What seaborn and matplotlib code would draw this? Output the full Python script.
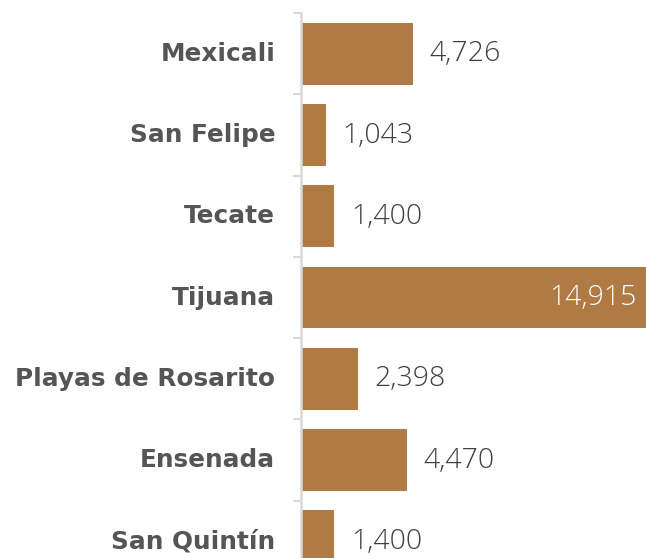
import matplotlib
matplotlib.use("Agg")
import matplotlib.pyplot as plt
import matplotlib.transforms as mtransforms
import seaborn as sns
import pandas as pd
import numpy as np

categories = ["Mexicali", "San Felipe", "Tecate", "Tijuana", "Playas de Rosarito", "Ensenada", "San Quintín"]
values = [4726, 1043, 1400, 14915, 2398, 4470, 1400]
value_labels = ["4,726", "1,043", "1,400", "14,915", "2,398", "4,470", "1,400"]

df = pd.DataFrame({"municipio": categories, "valor": values})

sns.set_theme(style="white")
plt.rcParams['font.family'] = ['DejaVu Sans']

W, H = 646, 558
fig = plt.figure(figsize=(W / 100, H / 100), dpi=100)
left_px, right_px = 301, 679
top_px, bot_px = 13, 582
ax = fig.add_axes([left_px / W, 1 - bot_px / H, (right_px - left_px) / W, (bot_px - top_px) / H])

bar_color = "#B07A44"
sns.barplot(data=df, y="municipio", x="valor", orient="h", color=bar_color,
            saturation=1, width=0.76, ax=ax, edgecolor="none")

ax.set_xlim(0, 16000)
ax.set_ylim(len(categories) - 0.5, -0.5)
ax.set_xlabel("")
ax.set_ylabel("")
ax.xaxis.set_visible(False)
for s in ["top", "right", "bottom"]:
    ax.spines[s].set_visible(False)
ax.spines["left"].set_color("#d9d9d9")
ax.spines["left"].set_linewidth(1.8)

ax.set_yticks(range(len(categories)))
ax.set_yticklabels(categories, fontsize=17.8, fontweight="bold", color="#555555")
ax.tick_params(axis="y", which="major", left=False, length=0, pad=18.5)
ax.set_yticks(np.arange(-0.5, len(categories), 1.0), minor=True)
ax.tick_params(axis="y", which="minor", left=True, length=5.8, width=1.5, color="#d9d9d9")
shift = mtransforms.ScaledTranslation(0, 2.5 / 100, fig.dpi_scale_trans)
for t in ax.get_yticklabels():
    t.set_transform(t.get_transform() + shift)

val_font = ["Open Sans", "DejaVu Sans"]
for i, (v, lab) in enumerate(zip(values, value_labels)):
    if v > 12000:
        ax.annotate(lab, xy=(v, i), xytext=(-12.2, -0.5), textcoords="offset points",
                    ha="right", va="center", fontsize=20.5, color="white",
                    family=val_font, fontweight="light")
    else:
        ax.annotate(lab, xy=(v, i), xytext=(12.2, -0.5), textcoords="offset points",
                    ha="left", va="center", fontsize=20.5, color="#404040",
                    family=val_font, fontweight="light")

fig.savefig("out.png", dpi=100)
